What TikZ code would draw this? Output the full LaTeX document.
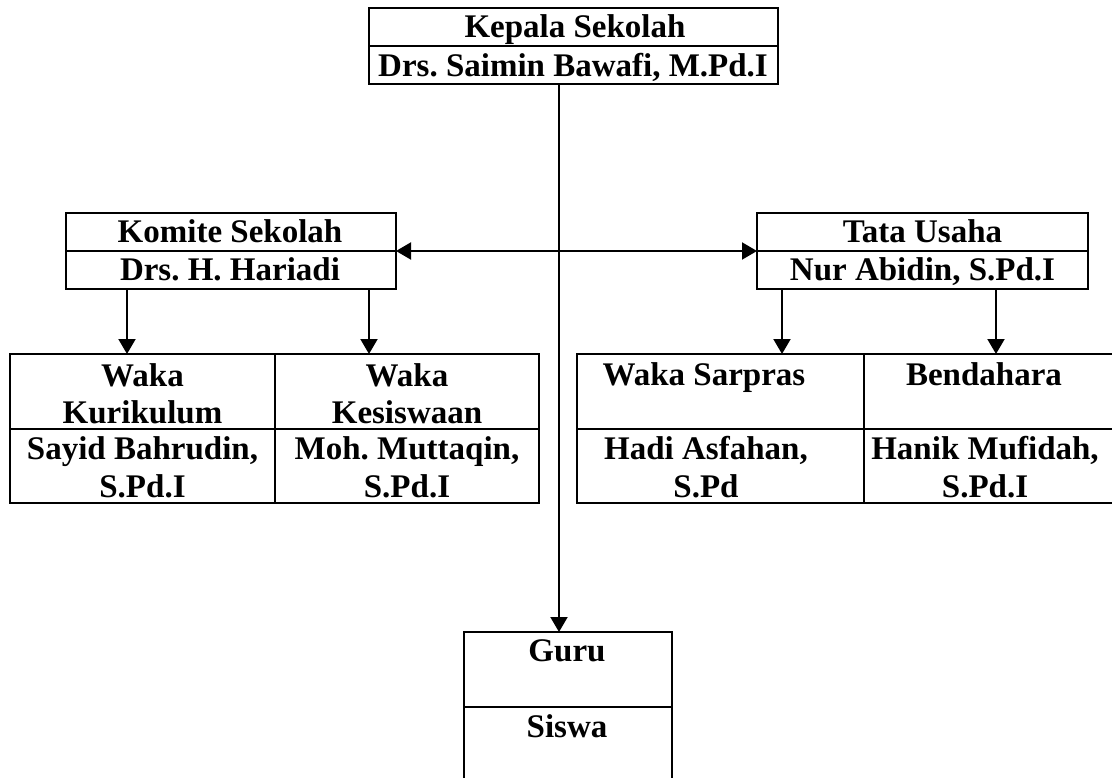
\documentclass[tikz,border=0pt]{standalone}
\usepackage{fontspec}
\setmainfont{Liberation Serif}
\usetikzlibrary{arrows.meta}
\frenchspacing
\begin{document}
\begin{tikzpicture}[x=1pt,y=-1pt,
  cellbox/.style={draw, line width=2pt, inner sep=0pt, outer sep=0pt, rectangle},
  txt/.style={anchor=base, inner sep=0pt, font=\fontsize{33}{38}\selectfont\bfseries},
  conn/.style={line width=2pt, -{Triangle[length=15pt,width=17pt]}},
  conn2/.style={line width=2pt, {Triangle[length=15pt,width=17pt]}-{Triangle[length=15pt,width=17pt]}}]
\clip (0,0) rectangle (1112,778);
\fill[white] (0,0) rectangle (1112,778);
% top
\node[cellbox, minimum width=409pt, minimum height=38pt] (top1) at (573.5,27) {};
\node[cellbox, minimum width=409pt, minimum height=38pt] (top2) at (573.5,65) {};
\node[txt] (tkep) at (575,38) {Kepala Sekolah};
\node[txt] (tsai) at (573,77) {Drs. Saimin Bawafi, M.Pd.I};
% komite
\node[cellbox, minimum width=330pt, minimum height=38pt] (kom1) at (231,232) {};
\node[cellbox, minimum width=330pt, minimum height=38pt] (kom2) at (231,270) {};
\node[txt] (tkom) at (230,243) {Komite Sekolah};
\node[txt] (thar) at (230,281) {Drs. H. Hariadi};
% tata usaha
\node[cellbox, minimum width=331pt, minimum height=38pt] (tu1) at (922.5,232) {};
\node[cellbox, minimum width=331pt, minimum height=38pt] (tu2) at (922.5,270) {};
\node[txt] (ttu) at (922.5,243) {Tata Usaha};
\node[txt] (tnur) at (922.5,281) {Nur Abidin, S.Pd.I};
% left table
\node[cellbox, minimum width=265pt, minimum height=75pt] (wk1) at (142.5,391.5) {};
\node[cellbox, minimum width=264pt, minimum height=75pt] (wk2) at (407,391.5) {};
\node[cellbox, minimum width=265pt, minimum height=74pt] (wk3) at (142.5,466) {};
\node[cellbox, minimum width=264pt, minimum height=74pt] (wk4) at (407,466) {};
\node[txt] (twk1a) at (142.5,386) {Waka};
\node[txt] (twk1b) at (142.5,423) {Kurikulum};
\node[txt] (twk2a) at (407,386) {Waka};
\node[txt] (twk2b) at (407,423) {Kesiswaan};
\node[txt] (twk3a) at (142.5,459) {Sayid Bahrudin,};
\node[txt] (twk3b) at (142.5,497) {S.Pd.I};
\node[txt] (twk4a) at (407,459) {Moh. Muttaqin,};
\node[txt] (twk4b) at (407,497) {S.Pd.I};
% right table
\node[cellbox, minimum width=287pt, minimum height=75pt] (ws1) at (720.5,391.5) {};
\node[cellbox, minimum width=262pt, minimum height=75pt] (bd1) at (995,391.5) {};
\node[cellbox, minimum width=287pt, minimum height=74pt] (ws2) at (720.5,466) {};
\node[cellbox, minimum width=262pt, minimum height=74pt] (bd2) at (995,466) {};
\node[txt] (tws1) at (704,385) {Waka Sarpras};
\node[txt] (tbd1) at (984,385) {Bendahara};
\node[txt] (tws2a) at (706,459) {Hadi Asfahan,};
\node[txt] (tws2b) at (706,497) {S.Pd};
\node[txt] (tbd2a) at (985,459) {Hanik Mufidah,};
\node[txt] (tbd2b) at (985,497) {S.Pd.I};
% guru / siswa
\node[cellbox, minimum width=208pt, minimum height=75pt] (guru) at (568,669.5) {};
\node[cellbox, minimum width=208pt, minimum height=83pt] (siswa) at (568,748.5) {};
\node[txt] (tguru) at (567,661) {Guru};
\node[txt] (tsiswa) at (567,737) {Siswa};
% connectors
\coordinate (cx) at (559,0);
\coordinate (d1) at (127,0);
\coordinate (d2) at (369,0);
\coordinate (d3) at (782,0);
\coordinate (d4) at (996,0);
\draw[conn] (cx |- top2.south) -- (cx |- guru.north);
\draw[conn2] (kom1.south east) -- (tu1.south west);
\draw[conn] (d1 |- kom2.south) -- (d1 |- wk1.north);
\draw[conn] (d2 |- kom2.south) -- (d2 |- wk2.north);
\draw[conn] (d3 |- tu2.south) -- (d3 |- ws1.north);
\draw[conn] (d4 |- tu2.south) -- (d4 |- bd1.north);
\end{tikzpicture}
\end{document}
